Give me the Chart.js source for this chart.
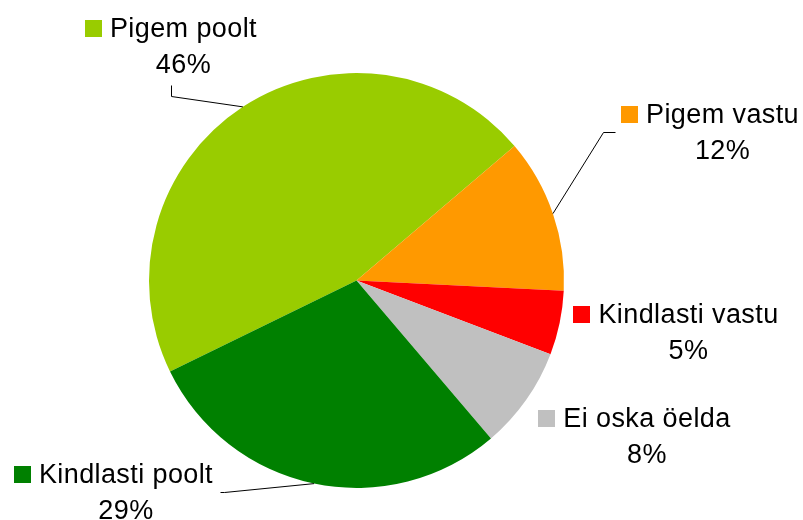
<!DOCTYPE html>
<html lang="et">
<head>
    <meta charset="UTF-8">
    <title>Pigem poolt / vastu</title>
    <script src="https://cdn.jsdelivr.net/npm/chart.js"></script>
    <style>
        * {
            margin: 0;
            padding: 0;
            box-sizing: border-box;
        }

        body {
            background: #ffffff;
        }

        .chart-container {
            position: relative;
            width: 803px;
            height: 520px;
        }
    </style>
</head>
<body>
    <div class="chart-container">
        <canvas id="pieChart"></canvas>
    </div>

    <script>
        // Andmed
        const categories = ['Pigem poolt', 'Pigem vastu', 'Kindlasti vastu', 'Ei oska öelda', 'Kindlasti poolt'];
        const shares = [46, 12, 5, 8, 29];
        const sliceColors = ['#99CC00', '#FF9900', '#FF0000', '#C0C0C0', '#008000'];

        // Siltide paigutus: tekstikeskme nihe pirukakeskmest raadiuse ühikutes,
        // juhtjoone kinnituskoht ja murdekoha pikkus
        const labelPlacement = [
            { dx: -0.834, dy: -1.173, leader: 'bottom', elbow: 11 },
            { dx: 1.764, dy: -0.759, leader: 'left', elbow: 12 },
            { dx: 1.600, dy: 0.205, leader: null },
            { dx: 1.400, dy: 0.704, leader: null },
            { dx: -1.111, dy: 0.976, leader: 'right', elbow: 4 }
        ];

        const fontSize = 27;
        const lineGap = 36;
        const capHeight = 19;
        const squareSize = 17;
        const squareGap = 8;

        const outsideLabels = {
            id: 'outsideLabels',
            afterDatasetsDraw(chart) {
                const ctx = chart.ctx;
                const meta = chart.getDatasetMeta(0);
                const values = chart.data.datasets[0].data;
                const total = values.reduce((a, b) => a + b, 0);

                ctx.save();
                ctx.font = fontSize + 'px "Liberation Sans", Arial, sans-serif';
                ctx.letterSpacing = '0.4px';
                ctx.textBaseline = 'alphabetic';
                ctx.fillStyle = '#000000';
                ctx.strokeStyle = '#000000';
                ctx.lineWidth = 1;

                meta.data.forEach((arc, i) => {
                    const p = arc.getProps(['x', 'y', 'startAngle', 'endAngle', 'outerRadius'], true);
                    const place = labelPlacement[i];
                    const r = p.outerRadius;
                    const ax = p.x + place.dx * r;
                    const base1 = p.y + place.dy * r;
                    const base2 = base1 + lineGap;

                    const name = chart.data.labels[i];
                    const pct = Math.round(values[i] / total * 100) + '%';
                    const w = ctx.measureText(name).width;
                    const textLeft = ax - w / 2;
                    const textRight = ax + w / 2;
                    const sqLeft = textLeft - squareGap - squareSize;

                    // värviline ruut + tekst
                    ctx.fillStyle = sliceColors[i];
                    ctx.fillRect(Math.round(sqLeft), Math.round(base1 - squareSize), squareSize, squareSize);
                    ctx.fillStyle = '#000000';
                    ctx.textAlign = 'center';
                    ctx.fillText(name, ax, base1);
                    ctx.fillText(pct, ax, base2);

                    if (!place.leader) return;

                    // juhtjoon piruka servast sildini
                    const mid = (p.startAngle + p.endAngle) / 2;
                    const ex = p.x + Math.cos(mid) * r;
                    const ey = p.y + Math.sin(mid) * r;
                    const midY = (base1 - capHeight + base2) / 2;
                    let tx, ty, bx, by;
                    if (place.leader === 'bottom') {
                        tx = (sqLeft + textRight) / 2;
                        ty = base2 + 12;
                        bx = tx;
                        by = ty + place.elbow;
                    } else if (place.leader === 'left') {
                        tx = sqLeft - 6;
                        ty = midY;
                        bx = tx - place.elbow;
                        by = ty;
                    } else {
                        tx = textRight + 7;
                        ty = midY;
                        bx = tx + place.elbow;
                        by = ty;
                    }
                    ctx.beginPath();
                    ctx.moveTo(Math.round(tx) + 0.5, Math.round(ty) + 0.5);
                    ctx.lineTo(Math.round(bx) + 0.5, Math.round(by) + 0.5);
                    ctx.lineTo(ex, ey);
                    ctx.stroke();
                });
                ctx.restore();
            }
        };

        new Chart(document.getElementById('pieChart'), {
            type: 'pie',
            data: {
                labels: categories,
                datasets: [{
                    data: shares,
                    backgroundColor: sliceColors,
                    borderWidth: 0,
                    hoverOffset: 0
                }]
            },
            options: {
                responsive: true,
                maintainAspectRatio: false,
                animation: false,
                rotation: 244,
                layout: {
                    padding: { left: 149, right: 239, top: 73, bottom: 32 }
                },
                plugins: {
                    legend: { display: false },
                    tooltip: { enabled: false }
                }
            },
            plugins: [outsideLabels]
        });
    </script>
</body>
</html>
